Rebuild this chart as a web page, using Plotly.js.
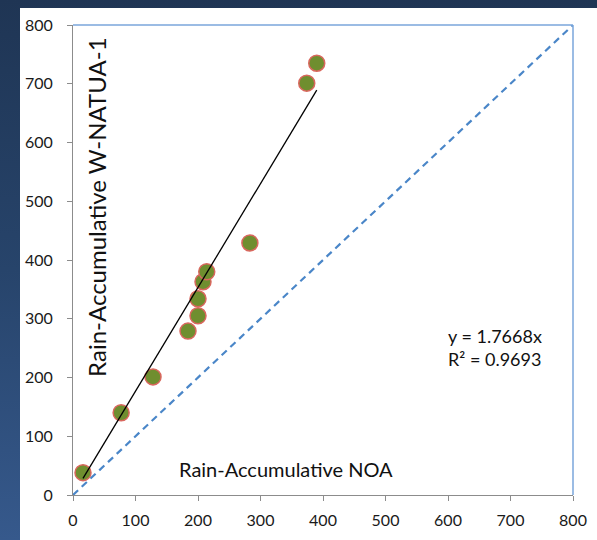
<!DOCTYPE html>
<html><head><meta charset="utf-8">
<script src="https://cdn.plot.ly/plotly-3.0.1.min.js"></script>
<style>
html,body{margin:0;padding:0;width:597px;height:540px;overflow:hidden;}
body{background:linear-gradient(180deg,#1f3554 0%,#27446b 50%,#36598c 100%);position:relative;}
#panel{position:absolute;left:20px;top:8px;width:577px;height:532px;background:#ffffff;}
#chart{position:absolute;left:0;top:0;width:597px;height:540px;}
</style></head>
<body>
<div id="panel"></div>
<div id="chart"></div>
<script>
const noaX = [16, 77, 128, 184, 200, 200, 208, 214, 283, 374, 390];
const natuaY = [38, 140, 201, 279, 305, 334, 363, 380, 429, 701, 735];
const slope = 1.7668;
const eqText = 'y = 1.7668x';
const r2Text = 'R² = 0.9693';
const axisTicks = [0, 100, 200, 300, 400, 500, 600, 700, 800];
const refLine = [0, 800];

const xMin = Math.min(...noaX), xMax = Math.max(...noaX);
const trendX = [xMin, xMax];
const trendY = trendX.map(v => slope * v);

const font = 'Lato, "Liberation Sans", sans-serif';
const tickFont = {size: 16, color: '#1a1a1a', family: font};

const data = [
  {x: refLine, y: refLine, mode: 'lines', line: {color: '#4a86c8', width: 2.2, dash: '7px,5px'}, hoverinfo: 'skip'},
  {x: noaX, y: natuaY, mode: 'markers', marker: {size: 16, color: '#6f8e2f', line: {color: '#d9675e', width: 1.5}}},
  {x: trendX, y: trendY, mode: 'lines', line: {color: '#000000', width: 1.3}, hoverinfo: 'skip'}
];

const layout = {
  width: 597, height: 540,
  margin: {l: 73, r: 24, t: 25, b: 45},
  paper_bgcolor: 'rgba(0,0,0,0)',
  plot_bgcolor: '#ffffff',
  showlegend: false,
  font: {family: font, color: '#222222', size: 14},
  xaxis: {range: [0, 800], tickvals: axisTicks, showgrid: false, zeroline: false,
          showline: true, linecolor: '#8c8c8c', linewidth: 1, ticks: 'outside', ticklen: 5, tickcolor: '#8c8c8c',
          ticklabelstandoff: 6, tickfont: tickFont, fixedrange: true},
  yaxis: {range: [0, 800], tickvals: axisTicks, showgrid: false, zeroline: false,
          showline: true, linecolor: '#8c8c8c', linewidth: 1, ticks: 'outside', ticklen: 5, tickcolor: '#8c8c8c',
          ticklabelstandoff: 11, tickfont: tickFont, fixedrange: true},
  shapes: [
    {type: 'line', xref: 'paper', yref: 'paper', x0: 0, x1: 1, y0: 1, y1: 1, line: {color: '#7aa6db', width: 1.5}},
    {type: 'line', xref: 'paper', yref: 'paper', x0: 1, x1: 1, y0: 0, y1: 1, line: {color: '#7aa6db', width: 1.5}}
  ],
  annotations: [
    {text: 'Rain-Accumulative W-NATUA-1', xref: 'paper', yref: 'paper', x: 0.048, y: 0.613, textangle: -90,
     showarrow: false, font: {size: 24, color: '#111111', family: font}, xanchor: 'center', yanchor: 'middle'},
    {text: 'Rain-Accumulative NOA', xref: 'paper', yref: 'paper', x: 0.426, y: 0.055,
     showarrow: false, font: {size: 20, color: '#111111', family: font}, xanchor: 'center', yanchor: 'middle'},
    {text: eqText, xref: 'paper', yref: 'paper', x: 0.746, y: 0.338, xanchor: 'left', yanchor: 'middle',
     showarrow: false, font: {size: 18, color: '#111111', family: font}},
    {text: r2Text, xref: 'paper', yref: 'paper', x: 0.746, y: 0.289, xanchor: 'left', yanchor: 'middle',
     showarrow: false, font: {size: 18, color: '#111111', family: font}}
  ]
};

Plotly.newPlot('chart', data, layout, {displayModeBar: false, staticPlot: true});
</script>
</body></html>
